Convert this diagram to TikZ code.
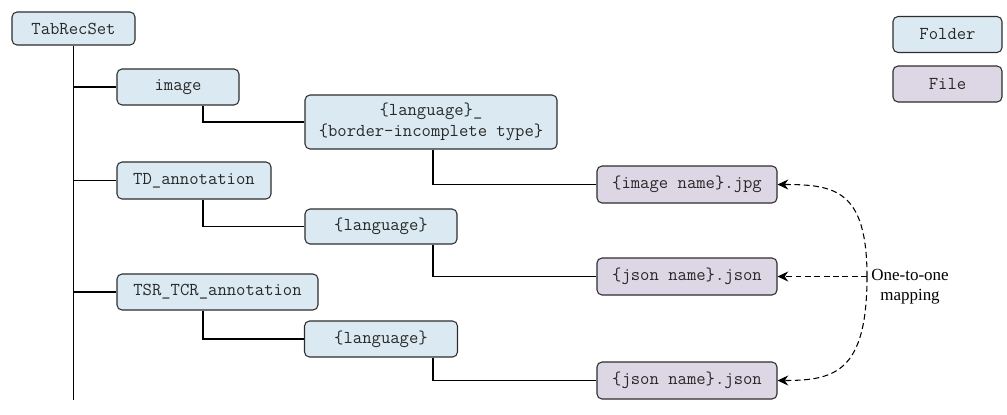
\documentclass[tikz,border=0pt]{standalone}
\usepackage{fontspec}
\usepackage{tikz}
\usetikzlibrary{arrows.meta, positioning, calc}
\setmainfont{Liberation Serif}
\definecolor{folderfill}{RGB}{219,234,242}
\definecolor{filefill}{RGB}{221,214,229}
\definecolor{edgegray}{RGB}{45,45,45}
\definecolor{textgray}{RGB}{40,40,40}

\begin{document}
\begin{tikzpicture}[
  x=0.03cm, y=-0.03cm,
  folder/.style={rectangle, draw=edgegray, fill=folderfill, rounded corners=0.15cm,
              line width=0.9pt, inner sep=0pt, minimum height=1.08cm, align=center,
              text=textgray, font=\ttfamily\fontsize{15.5pt}{18pt}\selectfont},
  file/.style={folder, fill=filefill},
  tree/.style={line width=1.2pt, black},
  map/.style={-{Stealth[length=3.2mm, width=3mm]}, dash pattern=on 5pt off 3pt,
              line width=0.9pt, black}
]
\useasboundingbox (0,0) rectangle (1007,414);

% folders of the tree
\node[folder, minimum width=3.69cm, minimum height=0.99cm] (root) at (73.5,28.5) {TabRecSet};
\node[folder, minimum width=3.66cm] (img) at (178,87) {image};
\node[folder, minimum width=7.56cm, minimum height=1.62cm] (langA) at (431,122) {\{language\}\_\\\{border-incomplete type\}};
\node[folder, minimum width=4.62cm, minimum height=1.11cm] (td) at (194,180.5) {TD\_annotation};
\node[folder, minimum width=4.56cm, minimum height=1.05cm] (langB) at (381,226.5) {\{language\}};
\node[folder, minimum width=6.03cm] (tsr) at (217.5,292) {TSR\_TCR\_annotation};
\node[folder, minimum width=4.59cm] (langC) at (381,339) {\{language\}};

% files
\node[file, minimum width=5.4cm, minimum height=1.11cm] (jpg) at (687,184.5) {\{image name\}.jpg};
\node[file, minimum width=5.4cm, minimum height=1.11cm] (jsonA) at (687,276.5) {\{json name\}.json};
\node[file, minimum width=5.4cm, minimum height=1.11cm] (jsonB) at (687,380.5) {\{json name\}.json};

% legend
\node[folder, minimum width=3.27cm] (legfolder) at (947.5,34.5) {Folder};
\node[file, minimum width=3.27cm] (legfile) at (947.5,84) {File};

% tree lines
\coordinate (trunkend) at (74,400);
\coordinate (colA) at (203,0);
\coordinate (colB) at (433,0);
\draw[tree] (root.south) -- (root.south |- trunkend);
\draw[tree] (root.south |- img.west) -- (img.west);
\draw[tree] (root.south |- td.west) -- (td.west);
\draw[tree] (root.south |- tsr.west) -- (tsr.west);
\draw[tree] (img.south -| colA) |- (langA.west);
\draw[tree] (td.south -| colA) |- (langB.west);
\draw[tree] (tsr.south -| colA) |- (langC.west);
\draw[tree] (langA.south -| colB) |- (jpg.west);
\draw[tree] (langB.south -| colB) |- (jsonA.west);
\draw[tree] (langC.south -| colB) |- (jsonB.west);

% one-to-one mapping
\coordinate (hub) at (867,276.5);
\draw[map] (hub) -- (jsonA.east);
\draw[map] (hub) .. controls (867,190) and (835,184.5) .. (jpg.east);
\draw[map] (hub) .. controls (867,372) and (835,380.5) .. (jsonB.east);
\node[font=\fontsize{14.5pt}{17pt}\selectfont, align=center] (maplabel) at (910,287) {One-to-one\\mapping};
\end{tikzpicture}
\end{document}
